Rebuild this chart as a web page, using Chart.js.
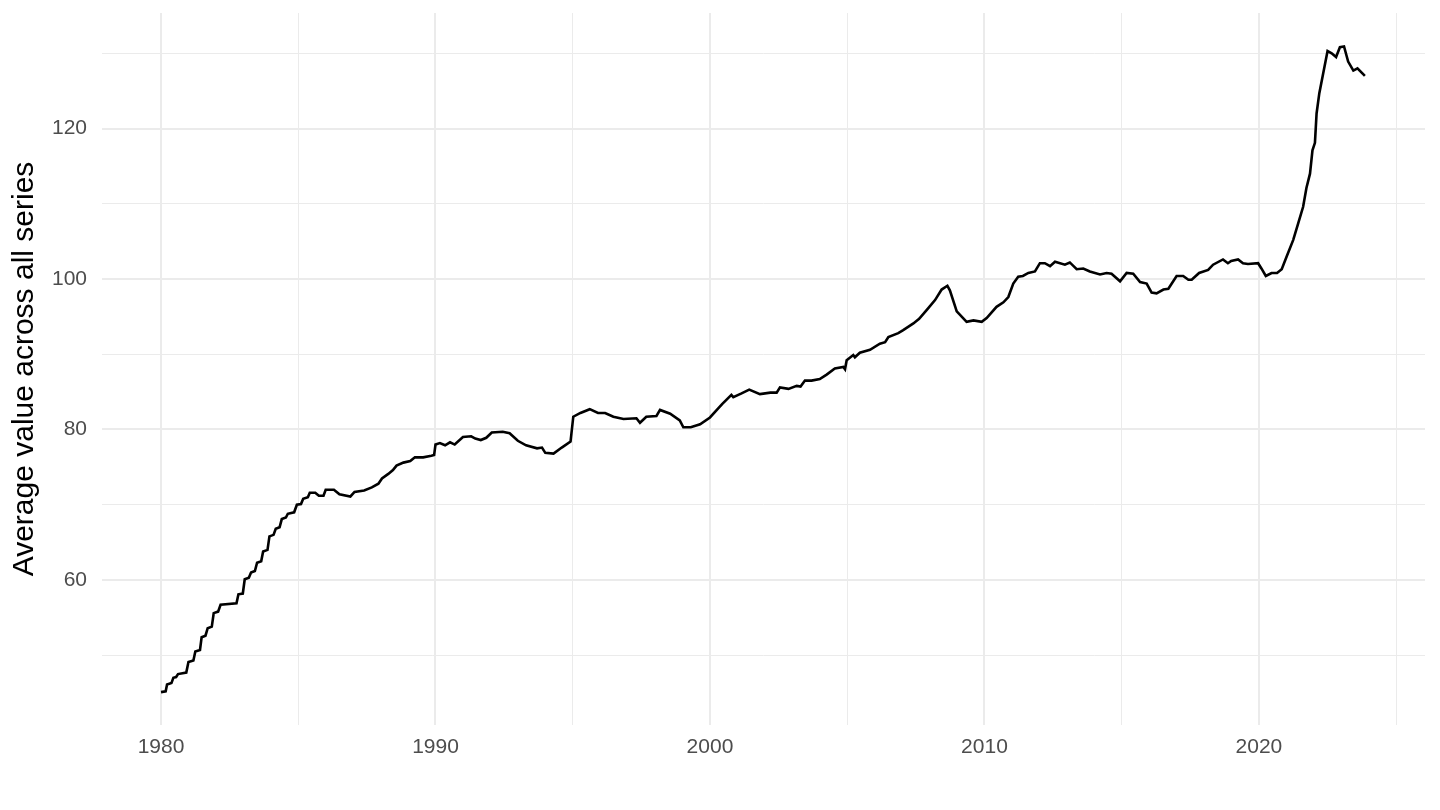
<!DOCTYPE html>
<html>
<head>
<meta charset="utf-8">
<script src="https://cdn.jsdelivr.net/npm/chart.js@4.4.1/dist/chart.umd.min.js"></script>
<style>
  html, body { margin: 0; padding: 0; background: #ffffff; }
  #wrap { width: 1440px; height: 810px; position: relative; }
</style>
</head>
<body>
<div id="wrap"><canvas id="c"></canvas></div>
<script>
// ---- data ----
const years = [
  1980.00,1980.17,1980.22,1980.38,1980.45,1980.55,1980.62,1980.92,
  1981.00,1981.18,1981.25,1981.42,1981.48,1981.62,1981.70,1981.85,1981.92,
  1982.08,1982.17,1982.75,1982.82,1982.98,
  1983.05,1983.20,1983.28,1983.42,1983.50,1983.65,1983.72,1983.88,1983.95,
  1984.10,1984.18,1984.32,1984.40,1984.55,1984.62,1984.85,1984.95,
  1985.10,1985.18,1985.35,1985.42,1985.62,1985.75,1985.92,
  1986.00,1986.30,1986.50,1986.90,
  1987.05,1987.40,1987.68,1987.92,
  1988.05,1988.28,1988.45,1988.58,1988.83,
  1989.08,1989.25,1989.55,1989.85,1989.95,
  1990.00,1990.16,1990.35,1990.53,1990.70,
  1991.00,1991.30,1991.45,1991.65,1991.85,
  1992.05,1992.45,1992.70,
  1993.00,1993.30,1993.70,1993.88,
  1994.00,1994.30,1994.60,1994.92,
  1995.02,1995.28,1995.62,1995.92,
  1996.18,1996.48,1996.85,
  1997.32,1997.45,1997.68,
  1998.05,1998.18,1998.55,1998.90,
  1999.03,1999.30,1999.64,
  2000.00,2000.30,2000.45,2000.78,2000.85,
  2001.15,2001.43,2001.82,
  2002.20,2002.43,2002.55,2002.86,
  2003.16,2003.30,2003.46,2003.70,
  2004.00,2004.25,2004.55,2004.86,2004.92,2004.98,
  2005.22,2005.28,2005.46,2005.83,
  2006.19,2006.38,2006.50,2006.86,
  2007.04,2007.41,2007.62,2007.90,
  2008.20,2008.44,2008.65,2008.74,2008.99,
  2009.35,2009.60,2009.90,
  2010.08,2010.44,2010.69,2010.87,
  2011.05,2011.23,2011.40,2011.60,2011.84,
  2012.02,2012.20,2012.39,2012.57,2012.93,
  2013.11,2013.36,2013.60,2013.84,
  2014.21,2014.45,2014.63,2014.94,
  2015.18,2015.42,2015.67,2015.91,
  2016.09,2016.27,2016.52,2016.70,
  2017.00,2017.24,2017.43,2017.55,2017.82,
  2018.15,2018.33,2018.69,2018.87,2018.99,
  2019.24,2019.42,2019.60,2019.97,
  2020.09,2020.25,2020.46,2020.66,2020.83,
  2021.01,2021.25,2021.43,2021.61,2021.73,2021.86,2021.95,
  2022.04,2022.10,2022.20,2022.34,2022.50,2022.65,2022.81,2022.95,
  2023.10,2023.25,2023.44,2023.59,2023.86
];
const values = [
  45.1,45.2,46.1,46.3,47.0,47.1,47.5,47.7,
  49.1,49.3,50.5,50.7,52.4,52.6,53.6,53.8,55.6,
  55.8,56.7,56.9,58.1,58.2,
  60.1,60.3,61.0,61.2,62.3,62.5,63.8,64.0,65.8,
  66.0,66.8,67.0,68.1,68.3,68.8,69.0,70.0,
  70.1,70.8,71.0,71.6,71.6,71.2,71.2,
  72.0,72.0,71.4,71.1,
  71.7,71.9,72.3,72.8,
  73.5,74.1,74.6,75.2,75.6,
  75.8,76.3,76.3,76.5,76.6,
  78.0,78.2,77.9,78.3,78.0,
  79.0,79.1,78.8,78.6,78.9,
  79.6,79.7,79.5,
  78.5,77.9,77.5,77.6,
  76.9,76.8,77.6,78.4,
  81.7,82.2,82.7,82.2,
  82.2,81.7,81.4,
  81.5,80.9,81.7,
  81.8,82.6,82.1,81.2,
  80.3,80.3,80.7,
  81.6,82.8,83.4,84.6,84.3,
  84.8,85.3,84.7,
  84.9,84.9,85.6,85.4,
  85.8,85.7,86.5,86.5,
  86.7,87.3,88.1,88.3,88.0,89.2,
  89.9,89.6,90.2,90.6,
  91.4,91.6,92.3,92.8,
  93.2,94.1,94.7,95.9,
  97.2,98.6,99.1,98.5,95.7,
  94.3,94.5,94.3,
  94.8,96.3,96.9,97.6,
  99.4,100.3,100.4,100.8,101.0,
  102.1,102.1,101.7,102.3,101.9,
  102.2,101.3,101.4,101.0,
  100.6,100.8,100.7,99.7,
  100.8,100.7,99.6,99.4,
  98.2,98.1,98.6,98.7,
  100.4,100.4,99.9,99.9,100.8,
  101.2,101.9,102.6,102.1,102.4,
  102.6,102.1,102.0,102.1,
  101.4,100.4,100.8,100.8,101.3,
  103.0,105.2,107.4,109.6,112.1,114.0,117.1,
  118.1,122.0,124.7,127.3,130.3,130.0,129.5,130.8,
  130.9,128.9,127.7,128.0,127.0
];
const xTicks = [1980,1985,1990,1995,2000,2005,2010,2015,2020,2025];
const xTickLabels = ['1980','','1990','','2000','','2010','','2020',''];
const yTicks = [50,60,70,80,90,100,110,120,130];
const yTickLabels = ['','60','','80','','100','','120',''];
const yTitle = 'Average value across all series';

// ---- chart ----
const points = years.map((x, i) => ({ x: x, y: values[i] }));
const FONT = '"Liberation Sans", Arial, Helvetica, sans-serif';
const GRID = '#EBEBEB';

function noPad(s) {
  s.paddingTop = 0; s.paddingBottom = 0; s.paddingLeft = 0; s.paddingRight = 0;
}

new Chart(document.getElementById('c'), {
  type: 'line',
  data: {
    datasets: [{
      data: points,
      borderColor: '#000000',
      borderWidth: 2.6,
      pointRadius: 0,
      tension: 0,
      fill: false
    }]
  },
  options: {
    responsive: true,
    maintainAspectRatio: false,
    animation: false,
    layout: { padding: { top: 13, right: 15, bottom: 0, left: 0 } },
    plugins: { legend: { display: false }, tooltip: { enabled: false } },
    scales: {
      x: {
        type: 'linear',
        min: 1977.85,
        max: 2026.05,
        afterBuildTicks: (s) => { s.ticks = xTicks.map(v => ({ value: v })); },
        afterFit: (s) => { s.height = 85; noPad(s); },
        border: { display: false },
        grid: {
          color: GRID,
          drawTicks: false,
          lineWidth: (ctx) => (ctx.tick && ctx.tick.value % 10 === 0) ? 2 : 1
        },
        ticks: {
          autoSkip: false,
          maxRotation: 0,
          padding: 10,
          color: '#4D4D4D',
          font: { family: FONT, size: 21 },
          callback: (v, i) => xTickLabels[i]
        }
      },
      y: {
        type: 'linear',
        min: 40.73,
        max: 135.35,
        afterBuildTicks: (s) => { s.ticks = yTicks.map(v => ({ value: v })); },
        afterFit: (s) => { s.width = 102; noPad(s); },
        border: { display: false },
        grid: {
          color: GRID,
          drawTicks: false,
          lineWidth: (ctx) => (ctx.tick && ctx.tick.value % 20 === 0) ? 2 : 1
        },
        ticks: {
          autoSkip: false,
          padding: 15,
          color: '#4D4D4D',
          font: { family: FONT, size: 21 },
          callback: (v, i) => yTickLabels[i]
        },
        title: {
          display: true,
          text: yTitle,
          color: '#000000',
          font: { family: FONT, size: 30 },
          padding: { top: 7, bottom: 0 }
        }
      }
    }
  }
});
</script>
</body>
</html>
